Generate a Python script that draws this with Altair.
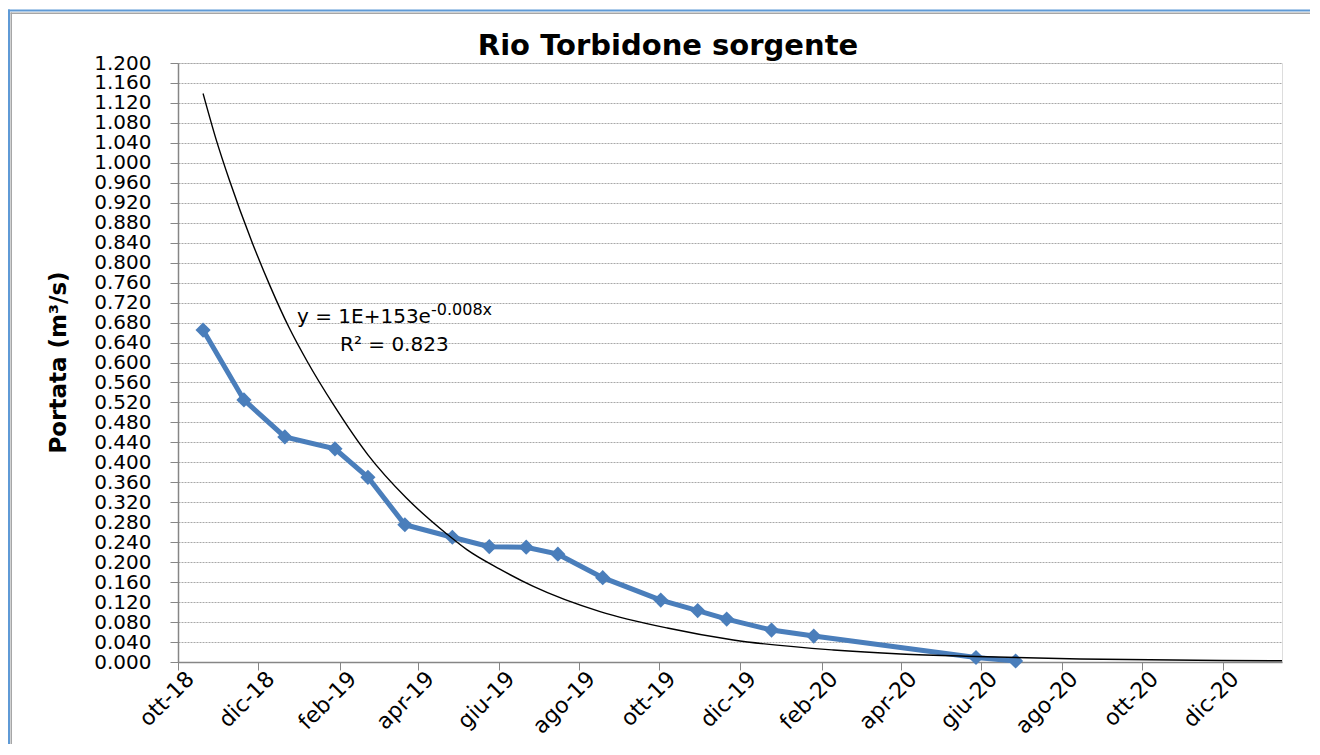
import altair as alt
import pandas as pd

# ---------------- data ----------------
dates = [
    "2018-10-20", "2018-11-20", "2018-12-21", "2019-01-28", "2019-02-22",
    "2019-03-22", "2019-04-27", "2019-05-25", "2019-06-22", "2019-07-16",
    "2019-08-19", "2019-10-02", "2019-10-30", "2019-11-21", "2019-12-25",
    "2020-01-26", "2020-05-28", "2020-06-27",
]
portata = [
    0.665, 0.525, 0.451, 0.427, 0.370,
    0.275, 0.250, 0.231, 0.230, 0.216,
    0.169, 0.124, 0.103, 0.086, 0.064,
    0.052, 0.009, 0.002,
]

# exponential trend line as drawn in the picture
trend_dates = [
    "2018-10-20", "2018-10-30", "2018-11-09", "2018-11-26", "2018-12-10",
    "2018-12-24", "2019-01-07", "2019-01-27", "2019-02-22", "2019-03-23",
    "2019-04-23", "2019-05-08", "2019-06-02", "2019-06-27", "2019-08-17",
    "2019-10-07", "2019-11-26", "2020-02-10", "2020-04-01", "2020-05-28",
    "2020-08-15", "2020-11-11", "2021-01-15",
]
trend_values = [
    1.139, 1.046, 0.965, 0.842, 0.752,
    0.671, 0.602, 0.515, 0.415, 0.329,
    0.256, 0.225, 0.186, 0.152, 0.101,
    0.068, 0.044, 0.024, 0.016, 0.011,
    0.006, 0.0035, 0.0025,
]

x_tick_dates = [
    (2018, 10), (2018, 12), (2019, 2), (2019, 4), (2019, 6), (2019, 8),
    (2019, 10), (2019, 12), (2020, 2), (2020, 4), (2020, 6), (2020, 8),
    (2020, 10), (2020, 12),
]
months_it = ["gen", "feb", "mar", "apr", "mag", "giu",
             "lug", "ago", "set", "ott", "nov", "dic"]
y_ticks = [round(i * 0.04, 3) for i in range(31)]

title_text = "Rio Torbidone sorgente"
y_title = "Portata (m³/s)"
eq_main = "y = 1E+153e"
eq_sup = "-0.008x"
r2_text = "R² = 0.823"

BLUE = "#4A7EBB"
FONT = "DejaVu Sans"
W, H = 1104, 599

# ---------------- chart ----------------
df = pd.DataFrame({"data": [d + "T00:00:00" for d in dates], "portata": portata})
tdf = pd.DataFrame({"data": [d + "T00:00:00" for d in trend_dates], "portata": trend_values})
one = pd.DataFrame({"a": [0]})

label_expr = (
    "[" + ",".join("'%s'" % m for m in months_it) + "][month(datum.value)]"
    " + '-' + timeFormat(datum.value, '%y')"
)

x_enc = alt.X(
    "data:T",
    scale=alt.Scale(domain=["2018-10-01T00:00:00", "2021-01-15T00:00:00"]),
    axis=alt.Axis(
        values=[alt.DateTime(year=y, month=m, date=1) for y, m in x_tick_dates],
        labelExpr=label_expr,
        labelAngle=-45,
        labelAlign="right",
        labelBaseline="middle",
        labelFont=FONT,
        labelFontSize=22,
        labelColor="black",
        labelPadding=5,
        labelOffset=12,
        labelOverlap=False,
        labelFlush=False,
        tickSize=8,
        tickColor="#868686",
        domainColor="#868686",
        domainWidth=1.5,
        grid=False,
        title=None,
    ),
)
y_enc = alt.Y(
    "portata:Q",
    scale=alt.Scale(domain=[0, 1.2], nice=False),
    axis=alt.Axis(
        values=y_ticks,
        format=".3f",
        labelFont=FONT,
        labelFontSize=20,
        labelColor="black",
        labelPadding=19,
        labelOverlap=False,
        labelFlush=False,
        tickSize=8,
        tickColor="#868686",
        domainColor="#868686",
        domainWidth=1.5,
        grid=True,
        gridColor="#a8a8a8",
        gridDash=[2, 1],
        gridWidth=1,
        title=None,
    ),
)

line = alt.Chart(df).mark_line(color=BLUE, strokeWidth=5).encode(x=x_enc, y=y_enc)
pts = alt.Chart(df).mark_point(
    shape="diamond", filled=True, size=230, color=BLUE, opacity=1
).encode(x=x_enc, y=y_enc)
trend = alt.Chart(tdf).mark_line(
    color="black", strokeWidth=1.4, interpolate="monotone"
).encode(x=x_enc, y=y_enc)


def txt(text, x, y, size, weight="normal", align="left", baseline="alphabetic", angle=0):
    kw = dict(text=text, font=FONT, fontSize=size, fontWeight=weight,
              align=align, baseline=baseline, color="black")
    if angle:
        kw["angle"] = angle
    return alt.Chart(one).mark_text(**kw).encode(x=alt.value(x), y=alt.value(y))


title = txt(title_text, 490, -8, 29, weight="bold", align="center")
ytitle = txt(y_title, -119, H / 2, 23, weight="bold", align="center",
             baseline="middle", angle=270)
eq1 = txt(eq_main, 119, 260, 20)
eq2 = txt(eq_sup, 253, 252, 16)
r2 = txt(r2_text, 162, 288, 20)


def frame(x, x2, y, y2, color):
    return alt.Chart(one).mark_rect(color=color).encode(
        x=alt.value(x), x2=alt.value(x2), y=alt.value(y), y2=alt.value(y2)
    )


frames = [
    frame(-170, -168, -53.5, 700, "#5f9ad6"),
    frame(-167.5, -166, -50.5, 700, "#a6a6a6"),
    frame(-170, 1160, -53.5, -51.5, "#5f9ad6"),
    frame(-167.5, 1160, -50.5, -49, "#a6a6a6"),
]

chart = alt.layer(
    *frames, line, pts, trend, title, ytitle, eq1, eq2, r2
).properties(
    width=W,
    height=H,
    padding={"left": 170, "top": 55, "right": 28, "bottom": 82},
    autosize=alt.AutoSizeParams(type="none"),
).configure_view(stroke=None).configure(background="white")

chart.save("out.html", embed_options={"renderer": "svg", "actions": False})
